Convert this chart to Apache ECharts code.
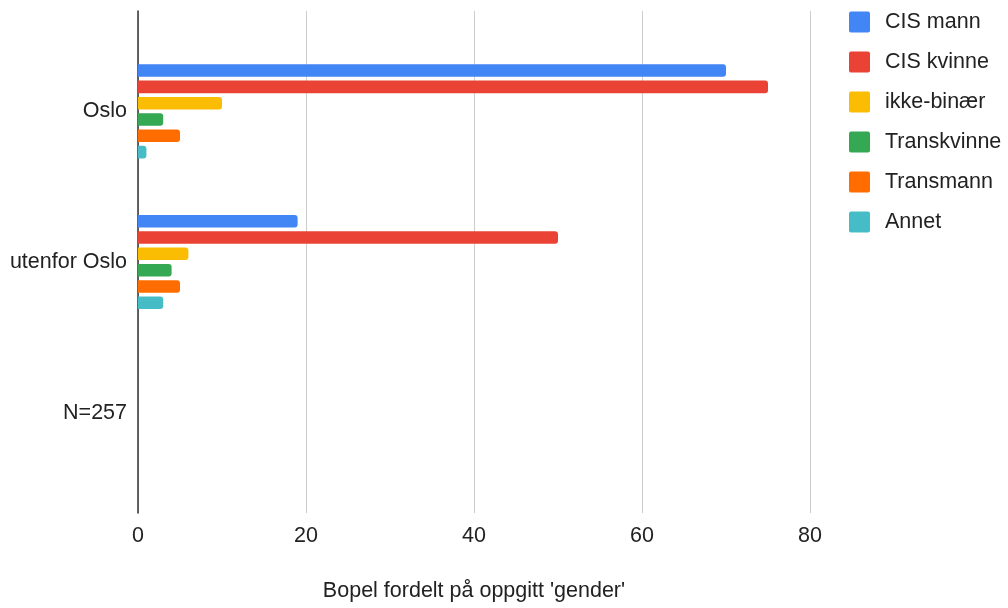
<!DOCTYPE html>
<html>
<head>
<meta charset="utf-8">
<script src="https://cdn.jsdelivr.net/npm/echarts@6/dist/echarts.min.js"></script>
<style>html,body{margin:0;padding:0;background:#fff}#c{width:1008px;height:608px}</style>
</head>
<body>
<div id="c"></div>
<script>
const categories = ['Oslo', 'utenfor Oslo', 'N=257'];
const seriesNames = ['CIS mann', 'CIS kvinne', 'ikke-binær', 'Transkvinne', 'Transmann', 'Annet'];
const cisMann = [70, 19, null];
const cisKvinne = [75, 50, null];
const ikkeBinaer = [10, 6, null];
const transkvinne = [3, 4, null];
const transmann = [5, 5, null];
const annet = [1, 3, null];
const xTicks = [0, 20, 40, 60, 80];
const axisTitle = "Bopel fordelt på oppgitt 'gender'";

const colors = ['#4285F4', '#EA4335', '#FBBC04', '#34A853', '#FF6D01', '#46BDC6'];
const values = [cisMann, cisKvinne, ikkeBinaer, transkvinne, transmann, annet];
const font = 'Liberation Sans, Arial, sans-serif';
const fs = 21.5;

const chart = echarts.init(document.getElementById('c'), null, {renderer: 'canvas'});
chart.setOption({
  animation: false,
  color: colors,
  legend: {
    orient: 'vertical', left: 849, top: 11, padding: 0,
    itemWidth: 21, itemHeight: 21, itemGap: 18,
    icon: 'path://M2,0 H19 A2,2 0 0 1 21,2 V19 A2,2 0 0 1 19,21 H2 A2,2 0 0 1 0,19 V2 A2,2 0 0 1 2,0 Z',
    textStyle: {fontSize: fs, lineHeight: 21, color: '#222', fontFamily: font, padding: [0, 0, 0, 10]},
    data: seriesNames
  },
  grid: [
    {left: 138, right: 198, top: 11, bottom: 95},
    {left: 138, right: 198, top: 36, bottom: 120}
  ],
  xAxis: [
    {
      gridIndex: 0, type: 'value', min: xTicks[0], max: xTicks[xTicks.length - 1], interval: 20,
      axisLine: {show: false}, axisTick: {show: false},
      splitLine: {lineStyle: {color: '#cccccc', width: 1}},
      axisLabel: {fontSize: fs, color: '#222', fontFamily: font, margin: 12},
      name: axisTitle, nameLocation: 'middle', nameGap: 67,
      nameTextStyle: {fontSize: fs, color: '#222', fontFamily: font}
    },
    {
      gridIndex: 1, type: 'value', min: xTicks[0], max: xTicks[xTicks.length - 1], show: false
    }
  ],
  yAxis: [
    {
      gridIndex: 0, type: 'category', data: [''],
      axisLine: {show: true, lineStyle: {color: '#333', width: 1.5}},
      axisTick: {show: false}, axisLabel: {show: false}, splitLine: {show: false}
    },
    {
      gridIndex: 1, type: 'category', inverse: true, data: categories,
      axisLine: {show: false}, axisTick: {show: false},
      axisLabel: {fontSize: fs, color: '#222', fontFamily: font, margin: 11}
    }
  ],
  series: seriesNames.map((n, i) => ({
    name: n, type: 'bar', xAxisIndex: 1, yAxisIndex: 1,
    data: values[i],
    barCategoryGap: '37.5%', barGap: '30%',
    itemStyle: {color: colors[i], borderRadius: [0, 3, 3, 0]}
  }))
});
</script>
</body>
</html>
